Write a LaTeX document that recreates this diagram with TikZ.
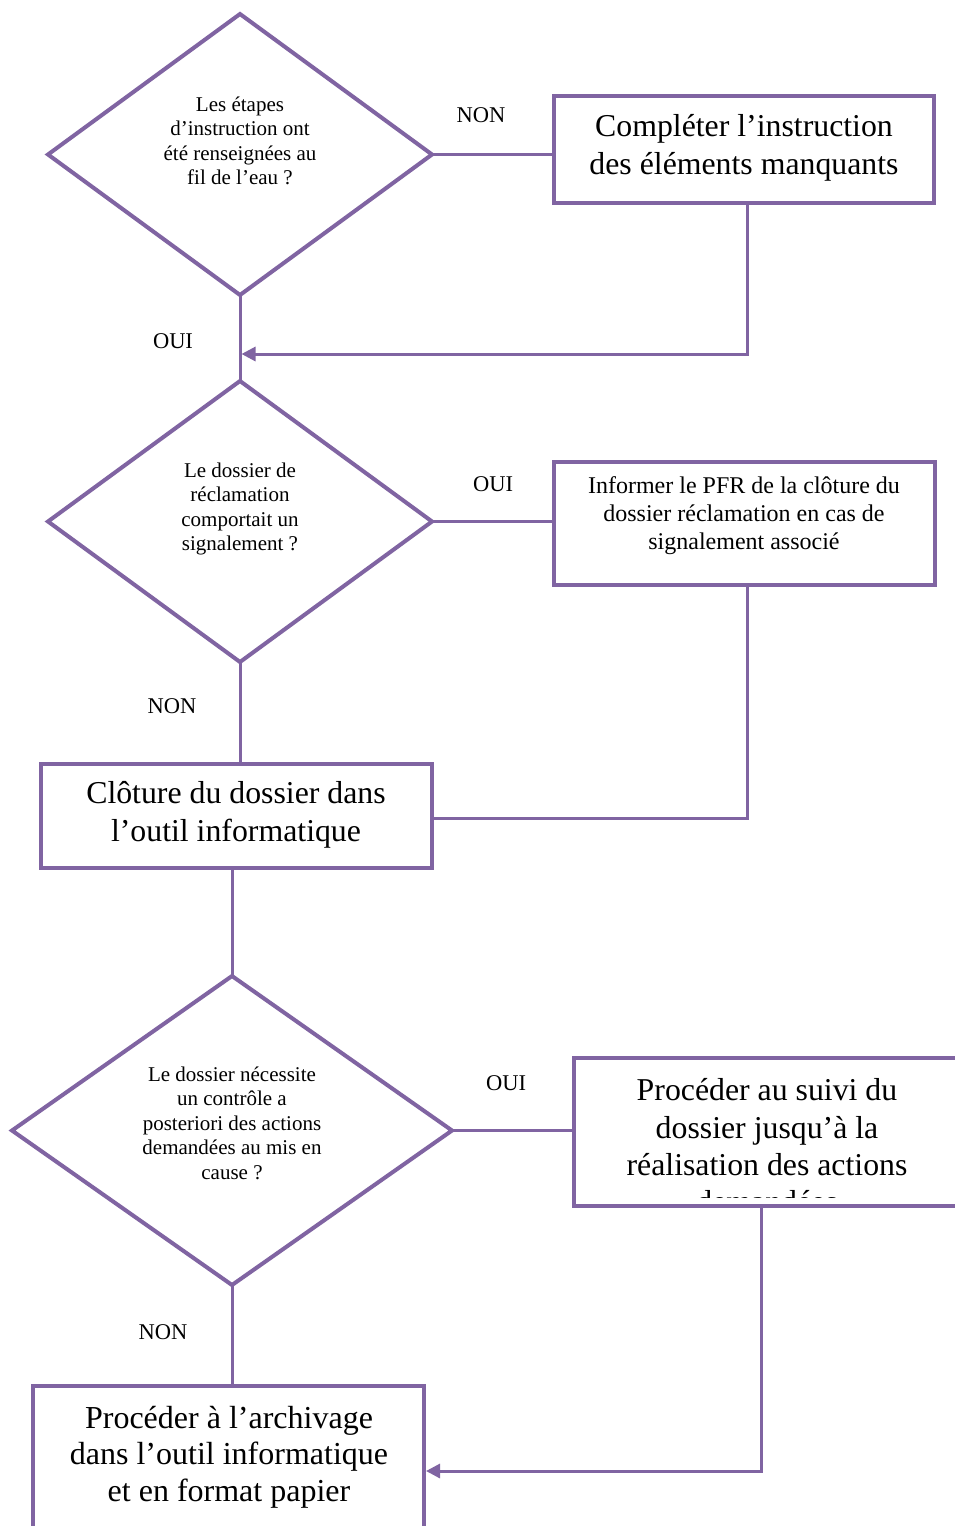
\documentclass[tikz,border=0pt]{standalone}
\usepackage{fontspec}
\setmainfont{Liberation Serif}
\usetikzlibrary{shapes.geometric,arrows.meta,calc}
\definecolor{pur}{RGB}{128,100,162}
\begin{document}
\begin{tikzpicture}[x=1pt,y=-1pt,
  dia/.style={diamond,draw=pur,line width=4pt,inner sep=0pt,outer sep=0pt},
  box/.style={rectangle,draw=pur,line width=4.2pt,inner sep=0pt,outer sep=0pt},
  conn/.style={draw=pur,line width=3pt},
  arr/.style={conn,-{Triangle[length=14pt,width=14pt]}},
  qtxt/.style={align=center,inner sep=0pt,font=\fontsize{21}{24.5}\selectfont},
  btxt/.style={align=center,inner sep=0pt,font=\fontsize{31.8}{37.5}\selectfont},
  mtxt/.style={align=center,inner sep=0pt,font=\fontsize{24}{28}\selectfont},
  lab/.style={inner sep=0pt,font=\fontsize{22.5}{27}\selectfont}]
\clip (0,0) rectangle (955,1526);
\fill[white] (0,0) rectangle (955,1526);

% diamonds
\node[dia,minimum width=384pt,minimum height=281pt] (d1) at (240,154.5) {};
\node[dia,minimum width=384pt,minimum height=281pt] (d2) at (240,521.5) {};
\node[dia,minimum width=440pt,minimum height=309pt] (d3) at (232,1130.5) {};

\node[qtxt] (d1t) at (240,141) {Les étapes\\d’instruction ont\\été renseignées au\\fil de l’eau ?};
\node[qtxt] (d2t) at (240,509) {Le dossier de\\réclamation\\comportait un\\signalement ?};
\node[qtxt] (d3t) at (232,1123) {Le dossier nécessite\\un contrôle a\\posteriori des actions\\demandées au mis en\\cause ?};

% boxes
\node[box,minimum width=380pt,minimum height=107pt] (b1) at (744,149.5) {};
\node[box,minimum width=381pt,minimum height=123pt] (b2) at (744.5,523.5) {};
\node[box,minimum width=391pt,minimum height=104pt] (b3) at (236.5,816) {};
\node[box,minimum width=416pt,minimum height=148pt] (b4) at (782,1132) {};
\node[box,minimum width=391pt,minimum height=170pt] (b5) at (228.5,1471) {};

\node[btxt] (b1t) at (744,148) {Compléter l’instruction\\des éléments manquants};
\node[mtxt] (b2t) at (744,516) {Informer le PFR de la clôture du\\dossier réclamation en cas de\\signalement associé};
\node[btxt] (b3t) at (236,815) {Clôture du dossier dans\\l’outil informatique};
\begin{scope}
\clip (578,1062) rectangle (955,1197);
\node[btxt,font=\fontsize{31.8}{37.3}\selectfont] (b4t) at (767,1146) {Procéder au suivi du\\dossier jusqu’à la\\réalisation des actions\\demandées};
\end{scope}
\node[btxt,font=\fontsize{32}{36.5}\selectfont] (b5t) at (229,1457) {Procéder à l’archivage\\dans l’outil informatique\\et en format papier};

% labels
\node[lab] (l1) at (481,115) {NON};
\node[lab] (l2) at (173,341) {OUI};
\node[lab] (l3) at (493,484) {OUI};
\node[lab] (l4) at (172,706) {NON};
\node[lab] (l5) at (506,1083) {OUI};
\node[lab] (l6) at (163,1332) {NON};

% connectors
\coordinate (j1) at (240,354);
\draw[conn] (d1.east) -- (d1.east -| b1.west);
\draw[conn] (d1.south) -- (d2.north);
\draw[arr,shorten >=1.5pt] ([xshift=3pt]b1.south) |- (j1);
\draw[conn] (d2.east) -- (d2.east -| b2.west);
\draw[conn] (d2.south) -- (d2.south |- b3.north);
\draw[conn] ([xshift=2.5pt]b2.south) |- ([yshift=-2pt]b3.east);
\draw[conn] (d3.north |- b3.south) -- (d3.north);
\draw[conn] (d3.east) -- (d3.east -| b4.west);
\draw[conn] (d3.south) -- (d3.south |- b5.north);
\draw[arr,shorten >=2pt] ($(b4.south west)+(187,0)$) |- (b5.east);
\end{tikzpicture}
\end{document}
